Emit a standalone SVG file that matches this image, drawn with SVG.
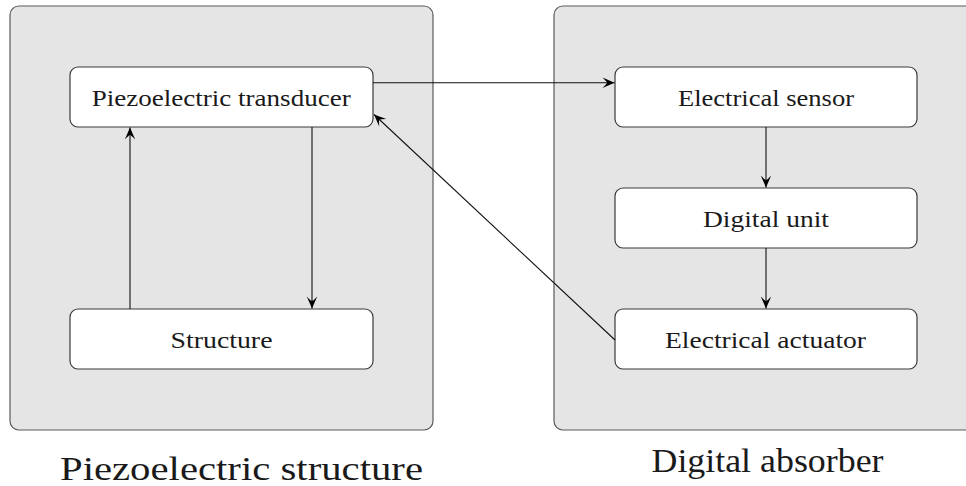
<svg xmlns="http://www.w3.org/2000/svg" width="966" height="486" viewBox="0 0 966 486">
<defs>
<style>
.panel{fill:#e5e5e5;stroke:#5a5a5a;stroke-width:1.2}
.node{fill:#ffffff;stroke:#3a3a3a;stroke-width:1.2}
text{font-family:Liberation Serif, DejaVu Serif, Times New Roman, Times, serif}
.t{font-size:24px;fill:#1a1a1a;text-anchor:middle}
.lbl{font-size:33px;fill:#1a1a1a;text-anchor:middle}
.c{fill:none;stroke:#111;stroke-width:1.1;marker-end:url(#arr)}
</style>
<marker id="arr" viewBox="-13 -6 14 12" refX="0" refY="0" markerWidth="14" markerHeight="12" markerUnits="userSpaceOnUse" orient="auto">
<path d="M0,0 L-12,-5.2 Q-7.5,-1 -7.5,0 Q-7.5,1 -12,5.2 Z" fill="#000"/>
</marker>
</defs>
<g id="panel-piezo">
<rect class="panel" x="10" y="6" width="423" height="424" rx="9"/>
<text class="lbl" x="241.5" y="480" font-family="DejaVu Serif, serif" textLength="363" lengthAdjust="spacingAndGlyphs">Piezoelectric structure</text>
</g>
<g id="panel-digital">
<rect class="panel" x="554" y="6" width="422" height="424" rx="9"/>
<text class="lbl" x="767.5" y="472" font-family="DejaVu Serif, serif" textLength="232" lengthAdjust="spacingAndGlyphs">Digital absorber</text>
</g>
<g id="node-transducer">
<rect class="node" x="70" y="67" width="303" height="60" rx="8"/>
<text class="t" x="221.2" y="106" font-family="Liberation Serif, serif" textLength="259" lengthAdjust="spacingAndGlyphs">Piezoelectric transducer</text>
</g>
<g id="node-structure">
<rect class="node" x="70" y="309" width="303" height="60" rx="8"/>
<text class="t" x="221.5" y="348" font-family="Liberation Serif, serif" textLength="102" lengthAdjust="spacingAndGlyphs">Structure</text>
</g>
<g id="node-sensor">
<rect class="node" x="615" y="67" width="302" height="60" rx="8"/>
<text class="t" x="766" y="106" font-family="Liberation Serif, serif" textLength="176" lengthAdjust="spacingAndGlyphs">Electrical sensor</text>
</g>
<g id="node-digital">
<rect class="node" x="615" y="188" width="302" height="60" rx="8"/>
<text class="t" x="766" y="227" font-family="Liberation Serif, serif" textLength="126" lengthAdjust="spacingAndGlyphs">Digital unit</text>
</g>
<g id="node-actuator">
<rect class="node" x="615" y="309" width="302" height="60" rx="8"/>
<text class="t" x="765.5" y="348" font-family="Liberation Serif, serif" textLength="201" lengthAdjust="spacingAndGlyphs">Electrical actuator</text>
</g>
<g id="connectors">
<path class="c" d="M373,82.7 H614.5"/>
<path class="c" d="M312,127 V308.5"/>
<path class="c" d="M130,309 V127.5"/>
<path class="c" d="M615,340 L374,114.5"/>
<path class="c" d="M766,127 V187.5"/>
<path class="c" d="M766,248 V308.5"/>
</g>
</svg>
